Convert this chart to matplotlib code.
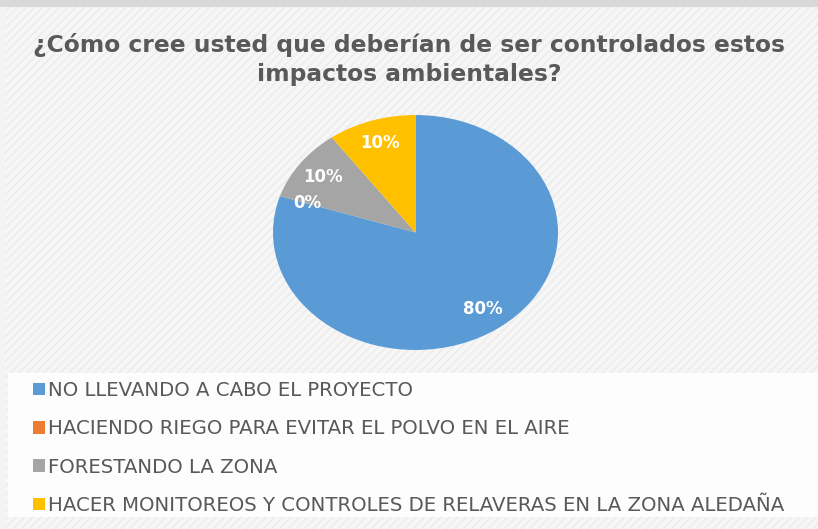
import matplotlib.pyplot as plt
from matplotlib.patches import Rectangle

title = "¿Cómo cree usted que deberían de ser controlados estos\nimpactos ambientales?"
labels = ["NO LLEVANDO A CABO EL PROYECTO",
          "HACIENDO RIEGO PARA EVITAR EL POLVO EN EL AIRE",
          "FORESTANDO LA ZONA",
          "HACER MONITOREOS Y CONTROLES DE RELAVERAS EN LA ZONA ALEDAÑA"]
values = [80, 0, 10, 10]
colors = ["#5b9bd5", "#ed7d31", "#a5a5a5", "#ffc000"]

fig = plt.figure(figsize=(8.18, 5.29), dpi=100, facecolor="#f4f4f4")

# hatched background, top band, white legend area
fig.patches.append(Rectangle((0.006, 0), 0.994, 0.987, transform=fig.transFigure,
                             facecolor="#f6f6f6", edgecolor="#ebebeb", hatch="////",
                             linewidth=0, zorder=-10))
fig.patches.append(Rectangle((0, 0.987), 1, 0.013, transform=fig.transFigure,
                             facecolor="#d9d9d9", linewidth=0, zorder=-9))
fig.patches.append(Rectangle((8 / 818, 12 / 529), 1, 144 / 529, transform=fig.transFigure,
                             facecolor="#fdfdfd", linewidth=0, zorder=-8))

fig.text(0.5, 0.888, title, ha="center", va="center", fontsize=16.8, fontweight="bold",
         color="#595959", linespacing=1.33)

ax = fig.add_axes([273 / 818, 179 / 529, 285 / 818, 235 / 529])
wedges, texts, autotexts = ax.pie(values, colors=colors, startangle=90, counterclock=False,
                                  autopct="%1.0f%%", pctdistance=0.8,
                                  textprops=dict(color="white", fontsize=12, fontweight="bold"))
ax.set_aspect("auto")
ax.set_xlim(-1, 1)
ax.set_ylim(-1, 1)

leg = fig.legend(wedges, labels, loc="upper left", bbox_to_anchor=(29 / 818, 1 - 377 / 529),
                 frameon=False, fontsize=14.2, labelcolor="#595959",
                 handlelength=0.6, handleheight=0.6, handletextpad=0.15,
                 labelspacing=0.98, borderpad=0.2, borderaxespad=0)

fig.savefig("out.png", dpi=100, facecolor=fig.get_facecolor())
